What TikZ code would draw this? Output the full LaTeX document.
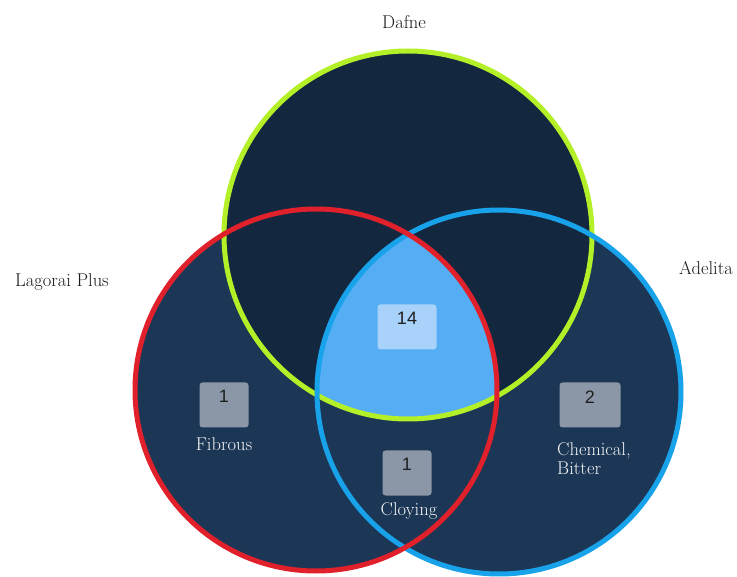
\documentclass[tikz,border=0pt]{standalone}
\usepackage{fontspec}
\newfontfamily\numfont{Liberation Sans}
\definecolor{darkA}{HTML}{13283F}
\definecolor{darkB}{HTML}{1C3756}
\definecolor{lightC}{HTML}{55AEF4}
\definecolor{greenL}{HTML}{B4F028}
\definecolor{redL}{HTML}{E0202A}
\definecolor{blueL}{HTML}{18A2EA}
\definecolor{boxG}{HTML}{8B97A7}
\definecolor{boxL}{HTML}{A8D2FA}
\begin{document}
\begin{tikzpicture}[x=1pt,y=-1pt,
  setlabel/.style={font=\fontsize{18.5}{22}\selectfont, text=black!90},
  innerlabel/.style={font=\fontsize{18.5}{21}\selectfont, text=white!96!black, align=left},
  numbox/.style={fill=boxG, rounded corners=3pt, minimum height=45pt, inner sep=0pt},
  numtext/.style={font=\numfont\fontsize{18}{21}\selectfont, text=black!88, anchor=north, inner sep=0pt},
  ring/.style={line width=5pt}]
\useasboundingbox (0,0) rectangle (737,577);
% circle centres and radii
\coordinate (cD) at (408,235);
\coordinate (cL) at (316,390);
\coordinate (cA) at (499,392);
% fills
\fill[darkB] (cL) circle[radius=181];
\fill[darkB] (cA) circle[radius=182];
\fill[darkA] (cD) circle[radius=184];
\begin{scope}
  \clip (cD) circle[radius=184];
  \clip (cL) circle[radius=181];
  \fill[lightC] (cA) circle[radius=182];
\end{scope}
% rings
\draw[ring, greenL] (cD) circle[radius=184];
\draw[ring, blueL] (cA) circle[radius=182];
\draw[ring, redL] (cL) circle[radius=181];
% set names
\node[setlabel] (nD) at (404,22) {Dafne};
\node[setlabel] (nL) at (62,282) {Lagorai Plus};
\node[setlabel] (nA) at (706,268) {Adelita};
% boxes
\node[numbox, fill=boxL, minimum width=59pt] (b14) at (407,327) {};
\node[numtext] (t14) at ([yshift=-8pt]b14.north) {14};
\node[numbox, minimum width=49pt] (bF) at (224,405) {};
\node[numtext] (tF) at ([yshift=-8pt]bF.north) {1};
\node[numbox, minimum width=61pt] (bC) at (590,405) {};
\node[numtext] (tC) at ([yshift=-8pt]bC.north) {2};
\node[numbox, minimum width=49pt] (bY) at (407,473) {};
\node[numtext] (tY) at ([yshift=-8pt]bY.north) {1};
% descriptors
\node[innerlabel] (lF) at (224,444) {Fibrous};
\node[innerlabel, anchor=west, inner sep=0pt] (lC) at (557,459) {Chemical,\\[-2pt]Bitter};
\node[innerlabel] (lY) at (409,511) {Cloying};
\end{tikzpicture}
\end{document}
